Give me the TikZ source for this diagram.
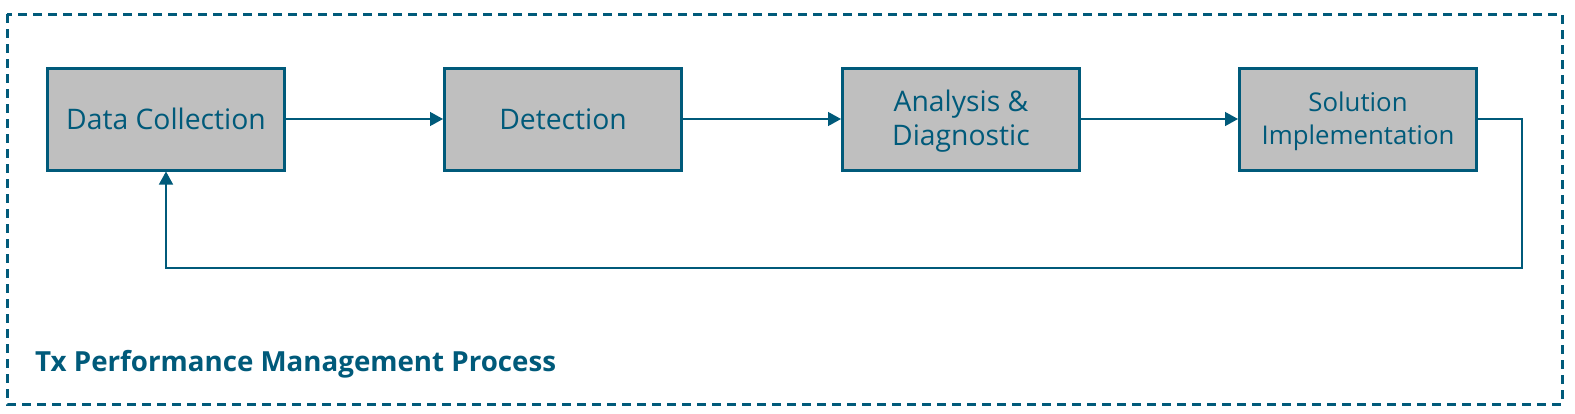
\documentclass[tikz,border=0pt]{standalone}
\usepackage{fontspec}
\setmainfont{Open Sans}
\usetikzlibrary{arrows.meta}
\definecolor{teal}{RGB}{0,90,122}
\definecolor{boxgray}{RGB}{191,191,191}
\newcommand{\toppad}{\rule{0pt}{25pt}}
\begin{document}
\begin{tikzpicture}[x=1pt,y=-1pt,
  stepbox/.style={draw=teal,line width=3pt,fill=boxgray,minimum width=237pt,minimum height=102pt,inner sep=0pt,
    text=teal,font=\fontsize{28.3}{34}\selectfont,align=center},
  conn/.style={draw=teal,line width=1.4pt,-{Triangle[length=13pt,width=14pt]}},
  frame/.style={draw=teal,line width=3pt,dash pattern=on 9pt off 6pt}]
\useasboundingbox (0,0) rectangle (1575,413);
\draw[frame] (7,14) rectangle (1562,404);
\node[stepbox] (dc) at (166,119) {Data Collection};
\node[stepbox] (det) at (563,119) {Detection};
\node[stepbox] (ana) at (961,119) {\toppad Analysis \&\\Diagnostic};
\node[stepbox,font=\fontsize{25.8}{33}\selectfont] (sol) at (1358,119) {\toppad Solution\\Implementation};
\coordinate (c1) at (1522,119);
\coordinate (c2) at (1522,268);
\coordinate (c3) at (166,268);
\draw[conn] (dc) -- (det);
\draw[conn] (det) -- (ana);
\draw[conn] (ana) -- (sol);
\draw[conn] (sol.east) -- (c1) -- (c2) -- (c3) -- (dc.south);
\node[anchor=base west,text=teal,font=\bfseries\fontsize{27.7}{32}\selectfont,inner sep=0pt] (title) at (35,371) {Tx Performance Management Process};
\end{tikzpicture}
\end{document}
